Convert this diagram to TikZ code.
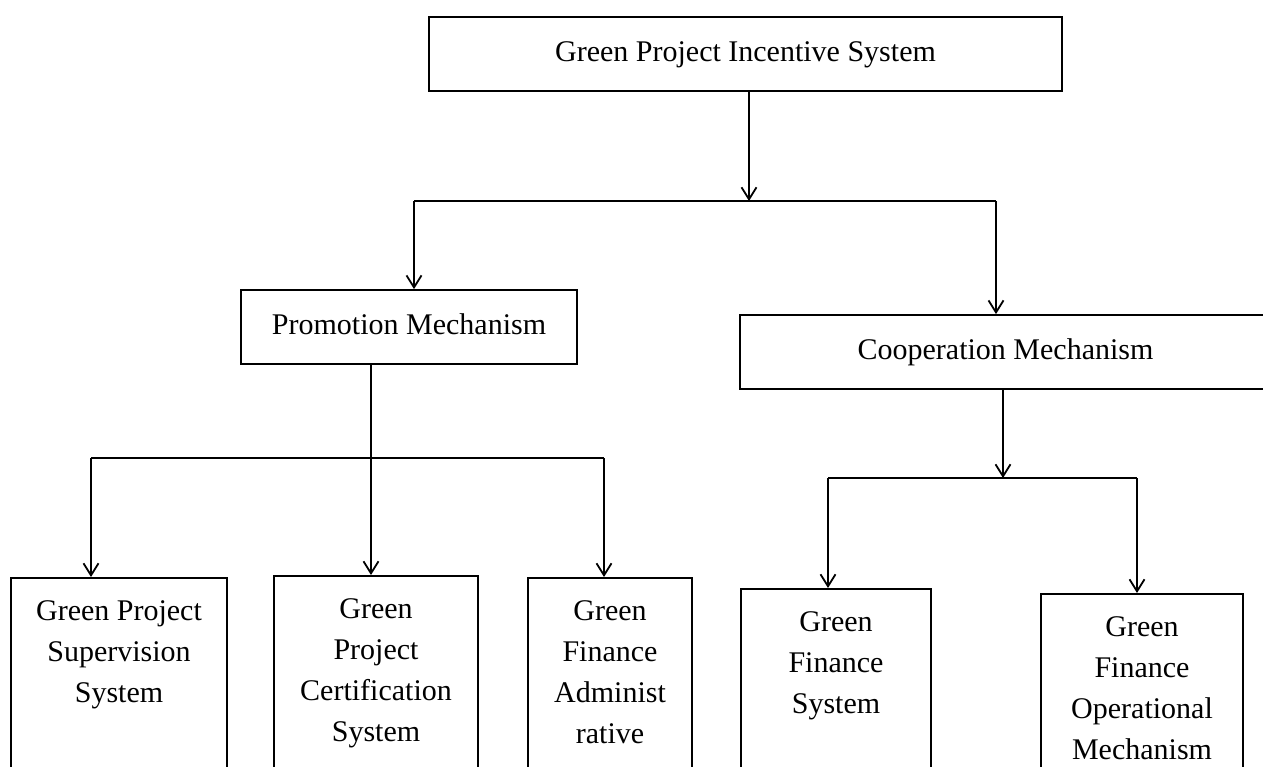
\documentclass[tikz,border=0pt]{standalone}
\usepackage{fontspec}
\setmainfont{Liberation Serif}
\usetikzlibrary{arrows.meta}

\begin{document}
\begin{tikzpicture}[x=0.5pt, y=-0.5pt, line width=0.9pt, >={Straight Barb[length=6pt,width=7.5pt]},
  every node/.style={font=\fontsize{15}{20.5}\selectfont},
  midbox/.style={draw, rectangle, inner sep=0pt, minimum height=37pt, text height=11pt, text depth=4pt},
  leafbox/.style={draw, rectangle, anchor=north, align=flush center, inner xsep=0pt, inner ysep=10.25pt, text height=11pt, text depth=150pt}]
\path[use as bounding box] (0,0) rectangle (1263,766);
\clip (0,0) rectangle (1263,766);
\node[midbox, minimum width=316.5pt] (top) at (745.5,54) {Green Project Incentive System};
\node[midbox, minimum width=168pt] (prom) at (409,327) {Promotion Mechanism};
\node[midbox, minimum width=265.5pt] (coop) at (1005.5,352) {Cooperation Mechanism};
\node[leafbox, text width=108pt] (sup) at (119,577) {Green Project\\Supervision\\System};
\node[leafbox, text width=102pt] (cert) at (376,575) {Green\\Project\\Certification\\System};
\node[leafbox, text width=82pt] (admin) at (610,577) {Green\\Finance\\Administ\\rative};
\node[leafbox, text width=95pt] (fin) at (836,588) {Green\\Finance\\System};
\node[leafbox, text width=101pt] (oper) at (1142,593) {Green\\Finance\\Operational\\Mechanism};
\coordinate (b1) at (749,201);
\coordinate (b1l) at (414,201);
\coordinate (b1r) at (996,201);
\coordinate (b2) at (371,458);
\coordinate (b2l) at (91,458);
\coordinate (b2r) at (604,458);
\coordinate (b3) at (1003,478);
\coordinate (b3l) at (828,478);
\coordinate (b3r) at (1137,478);
\draw[->] (top.south -| b1) -- (b1);
\draw (b1l) -- (b1r);
\draw[->] (b1l) -- (b1l |- prom.north);
\draw[->] (b1r) -- (b1r |- coop.north);
\draw[->] (prom.south -| b2) -- (b2 |- cert.north);
\draw (b2l) -- (b2r);
\draw[->] (b2l) -- (b2l |- sup.north);
\draw[->] (b2r) -- (b2r |- admin.north);
\draw[->] (coop.south -| b3) -- (b3);
\draw (b3l) -- (b3r);
\draw[->] (b3l) -- (b3l |- fin.north);
\draw[->] (b3r) -- (b3r |- oper.north);
\end{tikzpicture}
\end{document}
